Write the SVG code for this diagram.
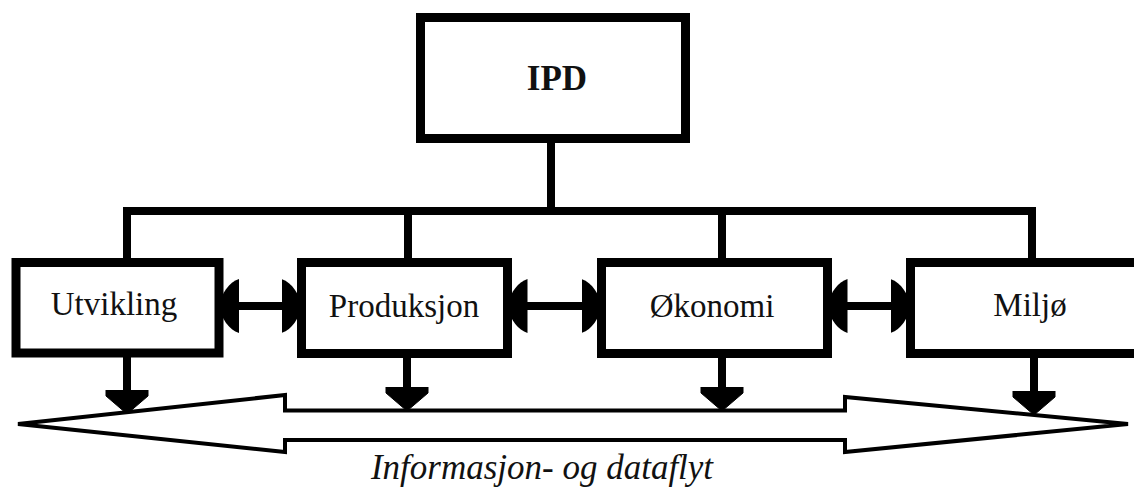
<svg xmlns="http://www.w3.org/2000/svg" width="1134" height="488" viewBox="0 0 1134 488">
  <style>
    .box { fill: #ffffff; stroke: #000000; stroke-width: 9; }
    .wire { fill: none; stroke: #000000; stroke-width: 8; }
    .link { fill: none; stroke: #000000; stroke-width: 8; marker-start: url(#headSide); marker-end: url(#headSide); }
    .drop { fill: none; stroke: #000000; stroke-width: 8; marker-end: url(#headDown); }
    .flow { fill: #ffffff; stroke: #000000; stroke-width: 4; }
    .label { font-family: "Liberation Serif", "Times New Roman", serif; font-size: 33px; fill: #111111; text-anchor: middle; }
    .title { font-weight: bold; font-size: 35px; }
    .caption { font-style: italic; font-size: 35px; }
  </style>
  <defs>
    <!-- rounded-flank head used on both ends of the links between departments -->
    <marker id="headSide" markerUnits="userSpaceOnUse" viewBox="0 -28 20 56" refX="6" refY="0" markerWidth="20" markerHeight="56" orient="auto-start-reverse">
      <path d="M0,-27 C10,-24 18,-12 20,0 C18,12 10,24 0,27 Z" fill="#000000"/>
    </marker>
    <!-- blunt-shouldered head on the drops into the information flow -->
    <marker id="headDown" markerUnits="userSpaceOnUse" viewBox="0 -23 24 46" refX="6" refY="0" markerWidth="24" markerHeight="46" orient="auto">
      <path d="M0,-21 L6,-21 L24,0 L6,21 L0,21 Z" fill="#000000" stroke="#000000" stroke-width="1" stroke-linejoin="round"/>
    </marker>
  </defs>

  <!-- wide double-headed band: information and data flow -->
  <g id="flow">
    <polygon class="flow" points="18,424 285,395 285,410.5 845,410.5 845,397 1128,424 845,452 845,440 285,440 285,452"/>
    <text class="label caption" x="542" y="479">Informasjon- og dataflyt</text>
  </g>

  <g id="connectors">
    <!-- tree from IPD down to the four departments -->
    <line class="wire" x1="551" y1="139" x2="551" y2="211"/>
    <line class="wire" x1="123" y1="211" x2="1036" y2="211"/>
    <line class="wire" x1="127" y1="211" x2="127" y2="263"/>
    <line class="wire" x1="408" y1="211" x2="408" y2="263"/>
    <line class="wire" x1="722" y1="211" x2="722" y2="263"/>
    <line class="wire" x1="1032" y1="211" x2="1032" y2="263"/>
    <!-- two-way links between neighbouring departments -->
    <line class="link" x1="233" y1="306" x2="287.5" y2="306"/>
    <line class="link" x1="521.5" y1="306" x2="587.5" y2="306"/>
    <line class="link" x1="841.5" y1="306" x2="896.5" y2="306"/>
    <!-- drops into the flow band -->
    <line class="drop" x1="127" y1="353" x2="127" y2="396"/>
    <line class="drop" x1="407" y1="353" x2="407" y2="393"/>
    <line class="drop" x1="722" y1="353" x2="722" y2="393"/>
    <line class="drop" x1="1034" y1="353" x2="1034" y2="397"/>
  </g>

  <g id="ipd">
    <rect class="box" x="420.5" y="17.5" width="265" height="121"/>
    <text class="label title" x="557" y="90">IPD</text>
  </g>
  <g id="utvikling">
    <rect class="box" x="16" y="262.5" width="203" height="90.5"/>
    <text class="label" x="114" y="315">Utvikling</text>
  </g>
  <g id="produksjon">
    <rect class="box" x="301.5" y="262.5" width="206" height="91"/>
    <text class="label" x="404" y="317">Produksjon</text>
  </g>
  <g id="okonomi">
    <rect class="box" x="601.5" y="262.5" width="226" height="91"/>
    <text class="label" x="712" y="317">Økonomi</text>
  </g>
  <g id="miljo">
    <rect class="box" x="910.5" y="262.5" width="240" height="91"/>
    <text class="label" x="1030" y="316">Miljø</text>
  </g>
</svg>
